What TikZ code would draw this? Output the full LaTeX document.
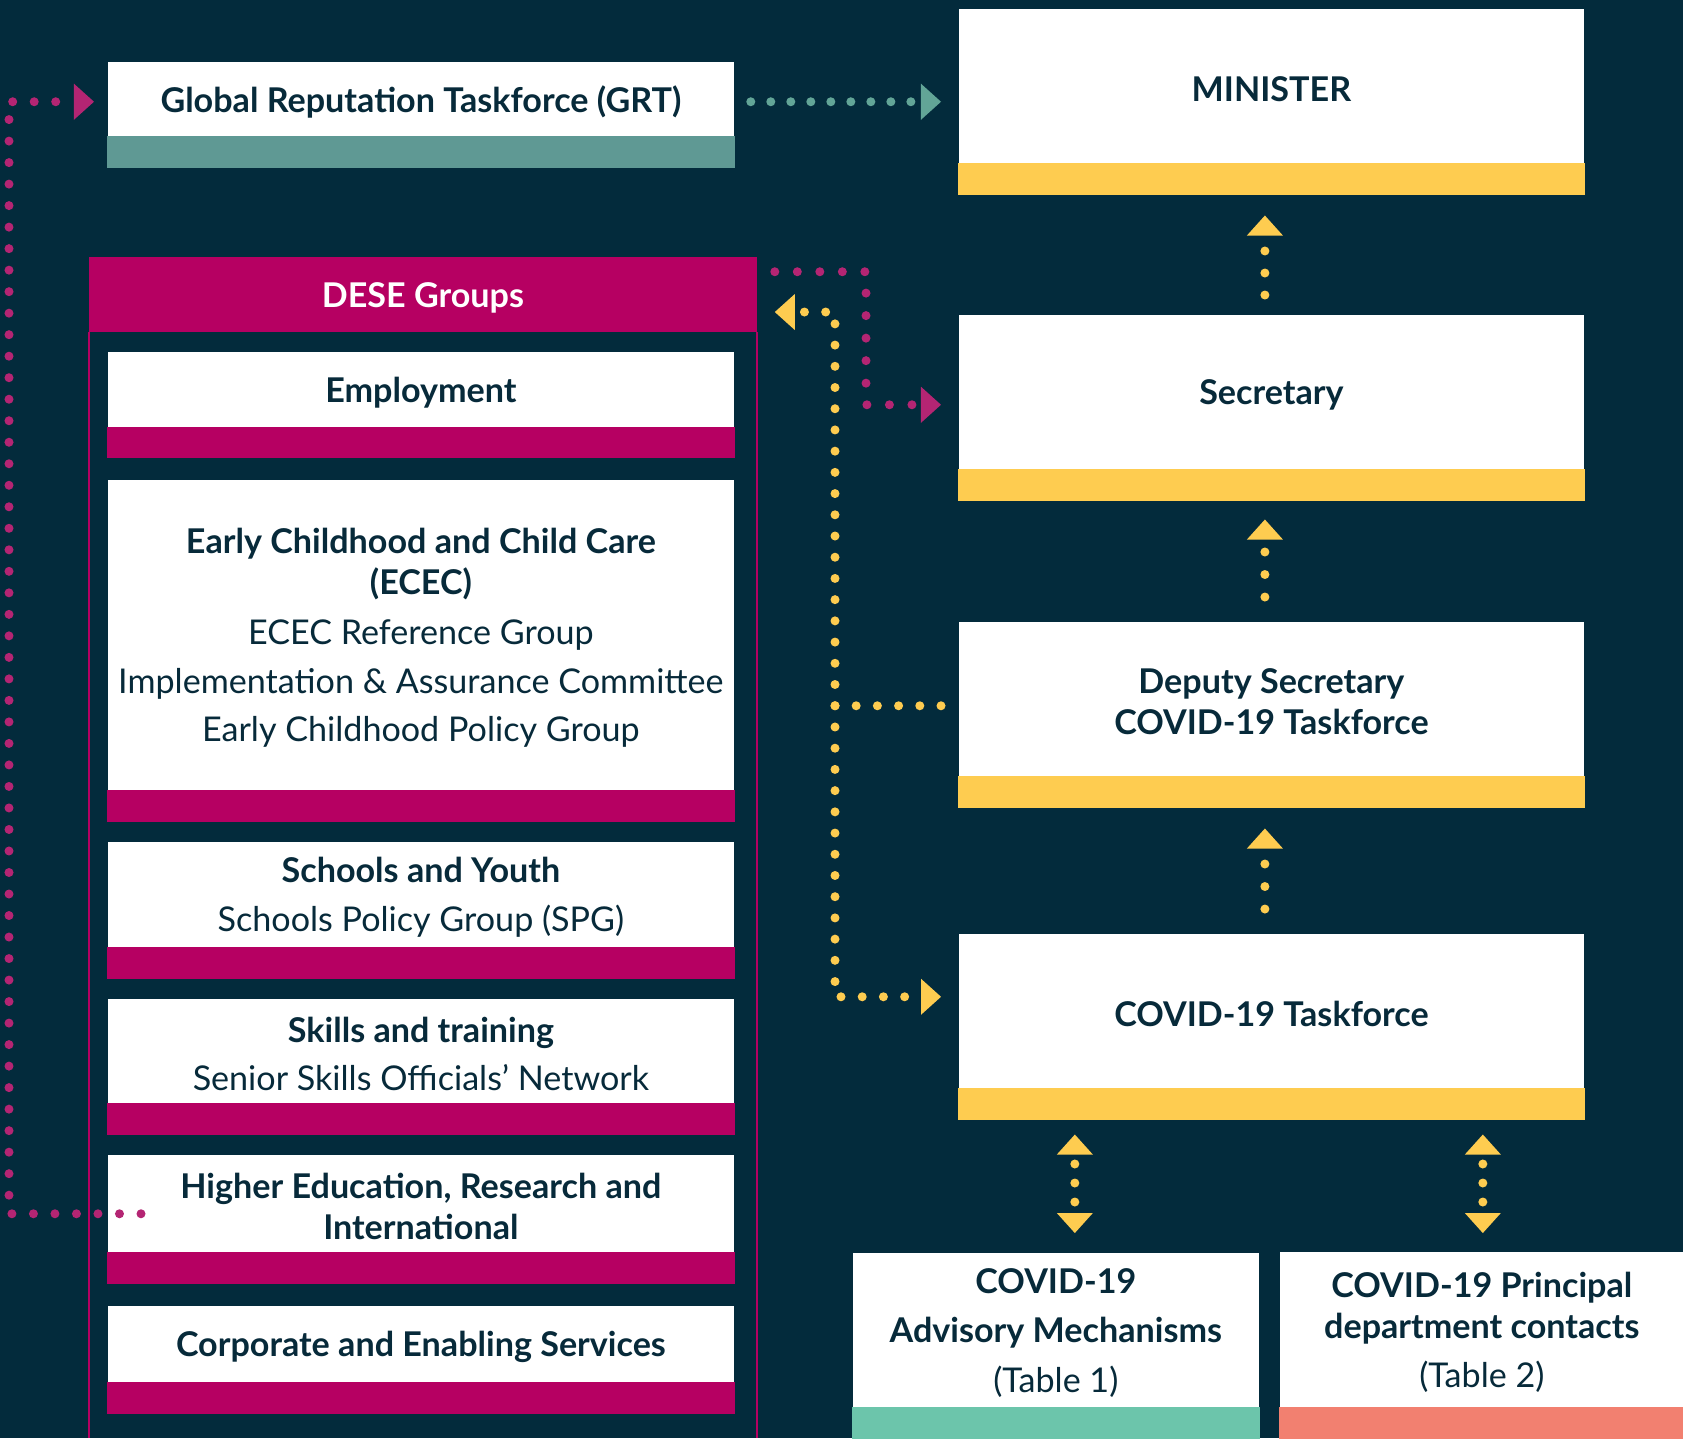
\documentclass[tikz,border=0pt]{standalone}
\usepackage{fontspec}
\setmainfont{Lato}
\usetikzlibrary{arrows.meta,calc}

\definecolor{navy}{HTML}{032B3C}
\definecolor{ink}{HTML}{072A3A}
\definecolor{berry}{HTML}{B60062}
\definecolor{berrydot}{HTML}{B42573}
\definecolor{gold}{HTML}{FECC50}
\definecolor{grtteal}{HTML}{5F9994}
\definecolor{tealdot}{HTML}{62A597}
\definecolor{mint}{HTML}{6CC5AB}
\definecolor{salmon}{HTML}{F28070}

\tikzset{
  orgbox/.style={fill=white, text=ink, inner sep=0pt, anchor=north west, align=center,
    font=\fontsize{9.7}{11.8}\selectfont},
  dotline/.style={line width=0.09cm, line cap=round, dash pattern=on 0cm off #1},
  tri/.tip={Triangle[length=0.2cm,width=0.36cm,line width=0pt]},
}

\begin{document}
\begin{tikzpicture}[x=0.01cm,y=-0.01cm]

\useasboundingbox (0,0) rectangle (1683,1438);
\fill[navy] (0,0) rectangle (1683,1438);

% right column
\node[orgbox, minimum width=6.25cm, minimum height=1.60cm] (minister) at (958,8) {\bfseries MINISTER};
\fill[gold] ($(minister.south west)+(0,-7)$) rectangle ($(minister.south east)+(0,25)$);

\node[orgbox, minimum width=6.25cm, minimum height=1.60cm] (secretary) at (958,314) {\bfseries Secretary};
\fill[gold] ($(secretary.south west)+(0,-7)$) rectangle ($(secretary.south east)+(0,25)$);

\node[orgbox, minimum width=6.25cm, minimum height=1.60cm] (deputy) at (958,621) {\bfseries Deputy Secretary\\\bfseries COVID-19 Taskforce};
\fill[gold] ($(deputy.south west)+(0,-7)$) rectangle ($(deputy.south east)+(0,25)$);

\node[orgbox, minimum width=6.25cm, minimum height=1.60cm] (covid) at (958,933) {\bfseries COVID-19 Taskforce};
\fill[gold] ($(covid.south west)+(0,-7)$) rectangle ($(covid.south east)+(0,25)$);

\node[orgbox, minimum width=4.06cm, minimum height=1.60cm] (advisory) at (852,1252) {\bfseries COVID-19\\[2.3pt]\bfseries Advisory Mechanisms\\[2.3pt](Table 1)};
\fill[mint] ($(advisory.south west)+(0,-7)$) rectangle ($(advisory.south east)+(0,26)$);

\node[orgbox, minimum width=4.04cm, minimum height=1.61cm] (principal) at (1279,1251) {\bfseries COVID-19 Principal\\\bfseries department contacts\\[2pt](Table 2)};
\fill[salmon] ($(principal.south west)+(0,-7)$) rectangle ($(principal.south east)+(0,26)$);

% left column
\node[orgbox, minimum width=6.26cm, minimum height=0.81cm] (grt) at (107,61) {\bfseries Global Reputation Taskforce (GRT)};
\fill[grtteal] ($(grt.south west)+(0,-7)$) rectangle ($(grt.south east)+(0,25)$);

\node[orgbox, fill=berry, text=white, minimum width=6.68cm, minimum height=0.75cm,
  text height=9.9pt, text depth=2.1pt] (dese) at (88,256) {\bfseries DESE Groups};
\draw[berry, line width=0.02cm] ($(dese.south west)+(1,0)$) -- ($(dese.south west |- 0,1438)+(1,0)$);
\draw[berry, line width=0.02cm] ($(dese.south east)+(-1,0)$) -- ($(dese.south east |- 0,1438)+(-1,0)$);

\node[orgbox, minimum width=6.26cm, minimum height=0.82cm] (employment) at (107,351) {\bfseries Employment};
\fill[berry] ($(employment.south west)+(0,-7)$) rectangle ($(employment.south east)+(0,24)$);

\node[orgbox, minimum width=6.26cm, minimum height=3.16cm] (ecec) at (107,479) {\bfseries Early Childhood and Child Care\\\bfseries (ECEC)\\[2.3pt]ECEC Reference Group\\[2pt]Implementation \& Assurance Committee\\[2pt]Early Childhood Policy Group};
\fill[berry] ($(ecec.south west)+(0,-7)$) rectangle ($(ecec.south east)+(0,25)$);

\node[orgbox, minimum width=6.26cm, minimum height=1.11cm] (schools) at (107,841) {\bfseries Schools and Youth\\[2pt]Schools Policy Group (SPG)};
\fill[berry] ($(schools.south west)+(0,-7)$) rectangle ($(schools.south east)+(0,25)$);

\node[orgbox, minimum width=6.26cm, minimum height=1.10cm] (skills) at (107,998) {\bfseries Skills and training\\[2pt]Senior Skills Officials’ Network};
\fill[berry] ($(skills.south west)+(0,-7)$) rectangle ($(skills.south east)+(0,25)$);

\node[orgbox, minimum width=6.26cm, minimum height=1.03cm] (hed) at (107,1154) {\bfseries Higher Education, Research and\\\bfseries International};
\fill[berry] ($(hed.south west)+(0,-7)$) rectangle ($(hed.south east)+(0,25)$);

\node[orgbox, minimum width=6.26cm, minimum height=0.82cm] (corporate) at (107,1305) {\bfseries Corporate and Enabling Services};
\fill[berry] ($(corporate.south west)+(0,-7)$) rectangle ($(corporate.south east)+(0,25)$);

% connectors
\draw[berrydot, dotline=0.215cm, -tri, shorten >=0.13cm] ($(hed.west)+(34,7.5)$) -| ($(grt.west)+(-98,-0.5)$) -- ($(grt.west)+(0,-0.5)$);
\draw[tealdot, dotline=0.2cm, -tri, shorten <=0.16cm, shorten >=0.17cm] ($(grt.east)+(0,-0.5)$) -- ($(grt.east -| minister.west)+(0,-0.5)$);
\draw[berrydot, dotline=0.225cm, -tri, shorten >=0.17cm] ($(dese.east)+(17,-22.5)$) -| ($(secretary.west)+(-92,10)$) -- ($(secretary.west)+(0,10)$);

\coordinate (ybus) at (835,312);
\draw[gold, dotline=0.212cm, -tri, shorten >=0.17cm] ($(deputy.west)+(-17,4)$) -| (ybus) -- (dese.east |- ybus);
\draw[gold, dotline=0.212cm, -tri] ($(deputy.west)+(-123,4)$) |- ($(covid.west)+(-17,-17)$);

\draw[gold, dotline=0.22cm, -tri] ($(secretary.north)+(-6.5,-19)$) -- ($(minister.south)+(-6.5,46)$);
\draw[gold, dotline=0.225cm, -tri] ($(deputy.north)+(-6.5,-24)$) -- ($(secretary.south)+(-6.5,44)$);
\draw[gold, dotline=0.225cm, -tri] ($(covid.north)+(-6.5,-24)$) -- ($(deputy.south)+(-6.5,46)$);

\draw[gold, dotline=0.19cm, dash phase=0.08cm, tri-tri] ($(advisory.north)+(19,-19)$) -- ($(covid.south -| advisory.north)+(19,40)$);
\draw[gold, dotline=0.19cm, dash phase=0.08cm, tri-tri] ($(principal.north)+(1,-18)$) -- ($(covid.south -| principal.north)+(1,40)$);

\end{tikzpicture}
\end{document}
